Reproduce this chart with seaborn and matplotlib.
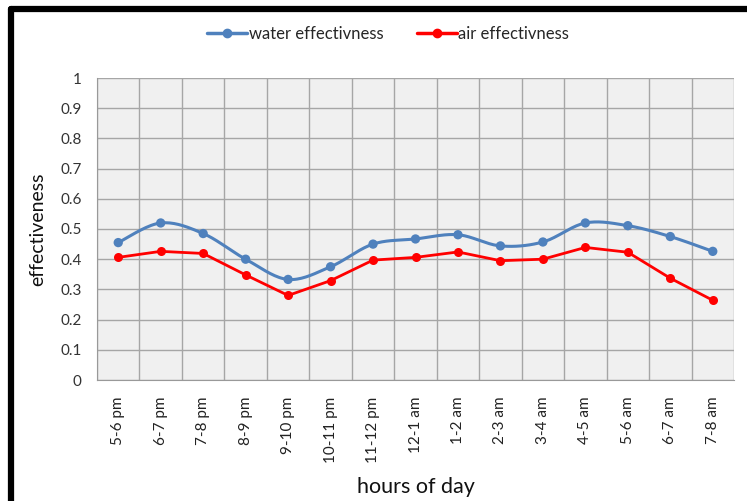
import numpy as np
import pandas as pd
import seaborn as sns
import matplotlib.pyplot as plt
from matplotlib.lines import Line2D

# values
hours = ['5-6 pm', '6-7 pm', '7-8 pm', '8-9 pm', '9-10 pm', '10-11 pm', '11-12 pm',
         '12-1 am', '1-2 am', '2-3 am', '3-4 am', '4-5 am', '5-6 am', '6-7 am', '7-8 am']
water = [0.455, 0.52, 0.485, 0.40, 0.333, 0.375, 0.45, 0.467,
         0.481, 0.444, 0.457, 0.52, 0.511, 0.475, 0.426]
air = [0.406, 0.426, 0.419, 0.348, 0.28, 0.329, 0.397, 0.406,
       0.424, 0.395, 0.40, 0.439, 0.423, 0.337, 0.264]

WATER_C = '#4f81bd'
AIR_C = '#ff0000'


def smooth(xs, ys, n=20):
    # excel-like smoothed line: cubic bezier segments, catmull-rom control points
    xs = np.asarray(xs, float)
    ys = np.asarray(ys, float)
    px = np.concatenate([[xs[0]], xs, [xs[-1]]])
    py = np.concatenate([[ys[0]], ys, [ys[-1]]])
    out_x, out_y = [], []
    t = np.linspace(0, 1, n)
    for i in range(1, len(px) - 2):
        p0 = np.array([px[i], py[i]])
        p3 = np.array([px[i + 1], py[i + 1]])
        c1 = p0 + (np.array([px[i + 1], py[i + 1]]) - np.array([px[i - 1], py[i - 1]])) / 6
        c2 = p3 - (np.array([px[i + 2], py[i + 2]]) - np.array([px[i], py[i]])) / 6
        b = ((1 - t) ** 3)[:, None] * p0 + (3 * (1 - t) ** 2 * t)[:, None] * c1 \
            + (3 * (1 - t) * t ** 2)[:, None] * c2 + (t ** 3)[:, None] * p3
        out_x.extend(b[:, 0])
        out_y.extend(b[:, 1])
    return np.array(out_x), np.array(out_y)


x = np.arange(len(hours))
df = pd.DataFrame({'x': np.concatenate([x, x]),
                   'value': water + air,
                   'series': ['water effectivness'] * len(x) + ['air effectivness'] * len(x)})
sx, sy = smooth(x, water)
curve = pd.DataFrame({'x': sx, 'value': sy})

sns.set_style('white')
plt.rcParams['font.family'] = ['Lato', 'DejaVu Sans']

fig = plt.figure(figsize=(7.47, 5.01), dpi=100)
ax = fig.add_axes([97 / 747, 1 - 380 / 501, (734 - 97) / 747, (380 - 78) / 501])
ax.set_facecolor('#f0f0f0')

sns.lineplot(data=curve, x='x', y='value', color=WATER_C, lw=2.2, ax=ax, sort=False)
sns.scatterplot(data=df[df.series == 'water effectivness'], x='x', y='value',
                color=WATER_C, s=45, edgecolor='none', ax=ax, zorder=3)
sns.lineplot(data=df[df.series == 'air effectivness'], x='x', y='value', color=AIR_C,
             lw=2.0, marker='o', markersize=6.5, markeredgewidth=0, ax=ax)

ax.set_xlim(-0.5, len(hours) - 0.5)
ax.set_ylim(0, 1)
ax.set_yticks(np.arange(0, 1.01, 0.1))
ax.set_yticklabels(['0'] + ['%.1f' % v for v in np.arange(0.1, 0.95, 0.1)] + ['1'])
ax.set_xticks(np.arange(-0.5, len(hours), 1), minor=False)
ax.set_xticklabels([])
ax.set_xticks(x, minor=True)
ax.set_xticklabels(hours, minor=True, rotation=90)
ax.tick_params(axis='x', which='minor', length=0, pad=12, labelsize=11, colors='#222222')
ax.tick_params(axis='x', which='major', length=6, color='#999999', width=1)
ax.tick_params(axis='y', length=6, color='#999999', width=1, labelsize=11,
               labelcolor='#333333', pad=5)
ax.grid(True, which='major', color='#a6a6a6', lw=1)
ax.set_axisbelow(True)
for s in ax.spines.values():
    s.set_visible(False)
ax.spines['left'].set_visible(True)
ax.spines['left'].set_color('#999999')
ax.spines['bottom'].set_visible(True)
ax.spines['bottom'].set_color('#999999')

ax.set_xlabel('hours of day', fontsize=15.5, labelpad=10, color='#111111')
ax.set_ylabel('effectiveness', fontsize=14, labelpad=10, color='#111111')
if ax.get_legend():
    ax.get_legend().remove()

handles = [Line2D([], [], color=WATER_C, lw=2.5, marker='o', markersize=6),
           Line2D([], [], color=AIR_C, lw=2.5, marker='o', markersize=6)]
fig.legend(handles, ['water effectivness', 'air effectivness'], loc='center',
           bbox_to_anchor=(388 / 747, 1 - 34 / 501), ncol=2, frameon=False,
           fontsize=12, handlelength=2.4, handletextpad=0.1, columnspacing=2.0)

# black frame lines at the top and left edge of the image
fig.add_artist(Line2D([11 / 747, 1], [1 - 9 / 501, 1 - 9 / 501], color='black', lw=4.5,
                      transform=fig.transFigure))
fig.add_artist(Line2D([11 / 747, 11 / 747], [0, 1 - 9 / 501], color='black', lw=4.5,
                      transform=fig.transFigure))

fig.savefig('out.png', dpi=100)
